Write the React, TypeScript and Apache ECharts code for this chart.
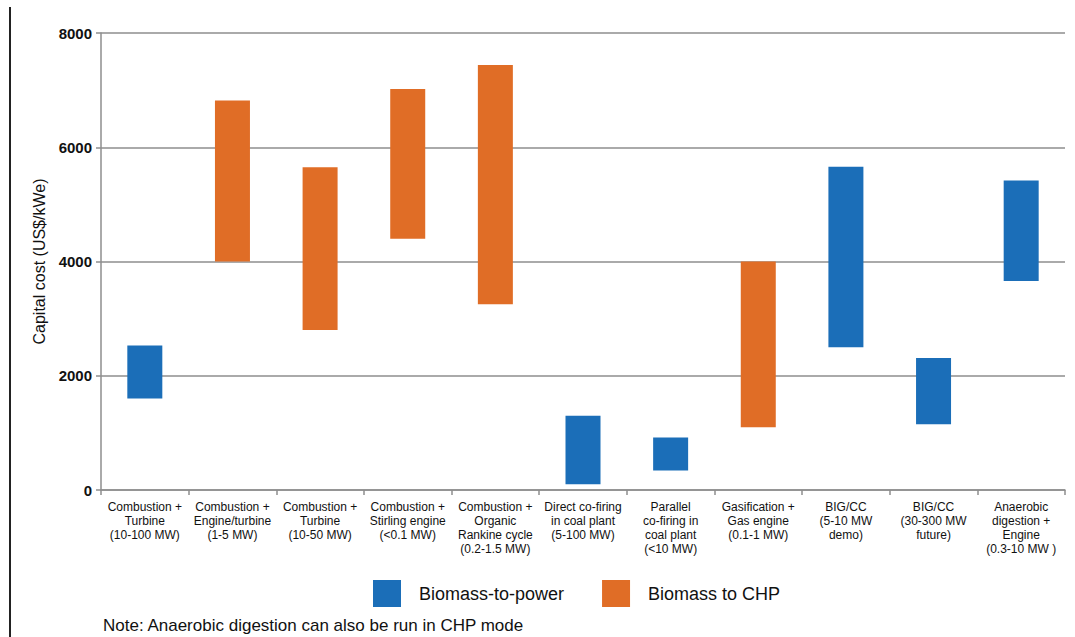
import React, { useEffect, useRef } from "react";
import * as echarts from "echarts";

const categories = [
  "Combustion +\nTurbine\n(10-100 MW)",
  "Combustion +\nEngine/turbine\n(1-5 MW)",
  "Combustion +\nTurbine\n(10-50 MW)",
  "Combustion +\nStirling engine\n(<0.1 MW)",
  "Combustion +\nOrganic\nRankine cycle\n(0.2-1.5 MW)",
  "Direct co-firing\nin coal plant\n(5-100 MW)",
  "Parallel\nco-firing in\ncoal plant\n(<10 MW)",
  "Gasification +\nGas engine\n(0.1-1 MW)",
  "BIG/CC\n(5-10 MW\ndemo)",
  "BIG/CC\n(30-300 MW\nfuture)",
  "Anaerobic\ndigestion +\nEngine\n(0.3-10 MW )",
];

const powerLow = [1600, null, null, null, null, 100, 340, null, 2500, 1150, 3660];
const powerHigh = [2530, null, null, null, null, 1300, 920, null, 5660, 2310, 5420];
const chpLow = [null, 4000, 2800, 4400, 3250, null, null, 1100, null, null, null];
const chpHigh = [null, 6820, 5650, 7020, 7440, null, null, 4000, null, null, null];

const yTicks = { min: 0, max: 8000, interval: 2000 };

const BLUE = "#1B6EB8";
const ORANGE = "#E06D26";
const GRID = "#8e8e8e";
const TEXT = "#111111";

export default function App() {
  const ref = useRef<HTMLDivElement>(null);
  useEffect(() => {
    if (!ref.current) return;
    const chart = echarts.init(ref.current, null, { renderer: "svg" });
    const diff = (hi: (number | null)[], lo: (number | null)[]) =>
      hi.map((h, i) => (h == null || lo[i] == null ? "-" : (h as number) - (lo[i] as number)));
    const base = (lo: (number | null)[]) => lo.map((v) => (v == null ? "-" : v));
    chart.setOption({
      animation: false,
      textStyle: { fontFamily: "Liberation Sans, Arial, sans-serif" },
      grid: { left: 101, right: 10, top: 33, bottom: 147, containLabel: false },
      legend: {
        data: ["Biomass-to-power", "Biomass to CHP"],
        left: 373,
        top: 580,
        padding: 0,
        icon: "rect",
        itemWidth: 28,
        itemHeight: 27,
        itemGap: 38,
        textStyle: { fontSize: 18, color: TEXT, padding: [0, 0, 0, 13] },
      },
      xAxis: {
        type: "category",
        data: categories,
        boundaryGap: true,
        axisLine: { show: true, lineStyle: { color: GRID, width: 1.5 } },
        axisTick: { show: true, length: 5, lineStyle: { color: GRID, width: 1.5 } },
        axisLabel: {
          interval: 0,
          fontSize: 12,
          lineHeight: 14,
          color: TEXT,
          margin: 10,
        },
      },
      yAxis: {
        type: "value",
        min: yTicks.min,
        max: yTicks.max,
        interval: yTicks.interval,
        name: "Capital cost (US$/kWe)",
        nameLocation: "middle",
        nameGap: 54,
        nameTextStyle: { fontSize: 16, color: TEXT },
        axisLine: { show: true, lineStyle: { color: GRID, width: 1.5 } },
        axisTick: { show: true, length: 5, lineStyle: { color: GRID, width: 1.5 } },
        axisLabel: {
          fontSize: 15,
          fontWeight: "bold",
          color: TEXT,
          margin: 9,
          formatter: (v: number) => String(v),
        },
        splitLine: { show: true, lineStyle: { color: GRID, width: 1.5 } },
      },
      series: [
        {
          type: "bar",
          name: "basePower",
          stack: "p",
          data: base(powerLow),
          barWidth: 35,
          itemStyle: { color: "transparent" },
          silent: true,
        },
        {
          type: "bar",
          name: "Biomass-to-power",
          stack: "p",
          data: diff(powerHigh, powerLow),
          barWidth: 35,
          itemStyle: { color: BLUE },
        },
        {
          type: "bar",
          name: "baseCHP",
          stack: "c",
          data: base(chpLow),
          barWidth: 35,
          barGap: "-100%",
          itemStyle: { color: "transparent" },
          silent: true,
        },
        {
          type: "bar",
          name: "Biomass to CHP",
          stack: "c",
          data: diff(chpHigh, chpLow),
          barWidth: 35,
          barGap: "-100%",
          itemStyle: { color: ORANGE },
        },
      ],
      graphic: [
        {
          type: "line",
          shape: { x1: 10, y1: 7, x2: 10, y2: 637 },
          style: { stroke: "#222", lineWidth: 2 },
        },
        {
          type: "text",
          x: 103,
          y: 617,
          style: {
            text: "Note: Anaerobic digestion can also be run in CHP mode",
            fontSize: 17,
            fill: TEXT,
            fontFamily: "Liberation Sans, Arial, sans-serif",
            verticalAlign: "top",
          },
        },
      ],
    });
    return () => chart.dispose();
  }, []);
  return (
    <div
      ref={ref}
      style={{ position: "absolute", left: 0, top: 0, width: 1075, height: 637 }}
    />
  );
}
